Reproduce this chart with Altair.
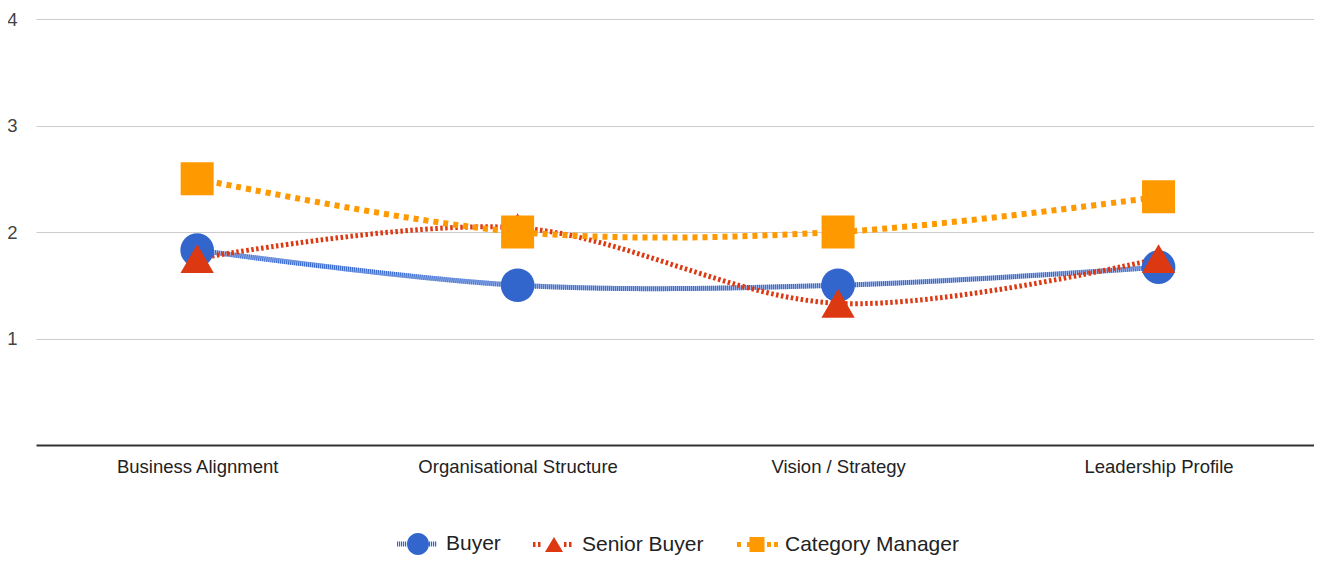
import altair as alt
import pandas as pd

categories = ["Business Alignment", "Organisational Structure", "Vision / Strategy", "Leadership Profile"]
series = ["Buyer", "Senior Buyer", "Category Manager"]
buyer = [1.83, 1.5, 1.5, 1.67]
senior_buyer = [1.75, 2.04, 1.33, 1.75]
category_manager = [2.5, 2.0, 2.0, 2.33]
y_ticks = [1, 2, 3, 4]

colors = ["#3366CC", "#DC3912", "#FF9900"]
FONT = "Liberation Sans, Arial, sans-serif"

rows = []
for s, vals in zip(series, [buyer, senior_buyer, category_manager]):
    for c, v in zip(categories, vals):
        rows.append({"category": c, "series": s, "value": v})
df = pd.DataFrame(rows)

# ---- custom symbol paths (style only) ----
R = 21.0  # px per path unit for legend symbols (symbolSize = 42^2)


def f(v):
    return f"{v / R:.4f}"


def dashes(start, end, w, period, h):
    parts = []
    x = start
    while x + w <= end + 1e-9:
        parts.append(f"M{f(x)},{f(-h)}L{f(x + w)},{f(-h)}L{f(x + w)},{f(h)}L{f(x)},{f(h)}Z")
        x += period
    return "".join(parts)


def circle(r):
    return f"M{f(r)},0A{f(r)},{f(r)} 0 1,1 {f(-r)},0A{f(r)},{f(r)} 0 1,1 {f(r)},0Z"


leg_buyer = dashes(-21, -11, 1.2, 2, 2.5) + circle(11) + dashes(11, 20, 1.2, 2, 2.5)
leg_senior = dashes(-21, -9, 2.5, 5, 2.5) + f"M0,{f(-7.5)}L{f(9)},{f(7.5)}L{f(-9)},{f(7.5)}Z" + dashes(10, 21, 2.5, 5, 2.5)
leg_cat = (dashes(-20, -16, 4, 10, 2.5) + dashes(-10, -6, 4, 10, 2.5)
           + f"M{f(-7.5)},{f(-7.5)}L{f(7.5)},{f(-7.5)}L{f(7.5)},{f(7.5)}L{f(-7.5)},{f(7.5)}Z"
           + dashes(10, 14, 4, 10, 2.5) + dashes(17, 21, 4, 10, 2.5))

tri_path = "M0,-0.866L1,0.866L-1,0.866Z"

x_enc = alt.X("category:N", sort=categories,
              scale=alt.Scale(type="point", padding=0.494, align=0.509),
              axis=alt.Axis(title=None, labelAngle=0, ticks=False, grid=False,
                            domainColor="#333333", domainWidth=2,
                            labelFontSize=18.5, labelColor="#222222", labelFont=FONT,
                            labelPadding=12, labelLimit=500))
y_enc = alt.Y("value:Q", scale=alt.Scale(domain=[0, 4], nice=False, zero=True),
              axis=alt.Axis(title=None, values=y_ticks, domain=False, ticks=False,
                            gridColor="#cccccc", gridWidth=1,
                            labelFontSize=18.5, labelColor="#444444", labelFont=FONT,
                            labelPadding=19))

base = alt.Chart(df)

# light underlay for the finely hatched Buyer line
buyer_under = (
    base.transform_filter(alt.datum.series == series[0])
    .mark_line(interpolate="cardinal", color="#a8bdeb", strokeWidth=5)
    .encode(x=x_enc, y=y_enc)
)

line_styles = [
    (series[0], colors[0], 5, [1, 1]),
    (series[1], colors[1], 5, [2.5, 2.5]),
    (series[2], colors[2], 6, [5, 5]),
]
lines = [buyer_under]
for s, col, w, dash in line_styles:
    lines.append(
        base.transform_filter(alt.datum.series == s)
        .mark_line(interpolate="cardinal", color=col, strokeWidth=w, strokeDash=dash)
        .encode(x=x_enc, y=y_enc)
    )

points = base.mark_point(filled=True, opacity=1, strokeWidth=0).encode(
    x=x_enc,
    y=y_enc,
    color=alt.Color("series:N", scale=alt.Scale(domain=series, range=colors), legend=None),
    shape=alt.Shape("series:N", scale=alt.Scale(domain=series, range=["circle", tri_path, "square"]), legend=None),
    size=alt.Size("series:N", scale=alt.Scale(domain=series, range=[1134, 1089, 784]), legend=None),
)

leg = alt.Legend(title=None, orient="none", legendX=361, legendY=504, direction="horizontal",
                 symbolSize=1764, symbolStrokeWidth=0, symbolOpacity=1,
                 labelFontSize=21, labelColor="#222222", labelFont=FONT,
                 labelOffset=7, columnPadding=32, padding=0, labelLimit=500)

legend_layer = base.transform_filter("false").mark_point(filled=True, opacity=1, strokeWidth=0).encode(
    color=alt.Color("series:N", scale=alt.Scale(domain=series, range=colors), legend=leg),
    shape=alt.Shape("series:N", scale=alt.Scale(domain=series, range=[leg_buyer, leg_senior, leg_cat]), legend=leg),
)

chart = alt.layer(*lines, points, legend_layer).resolve_scale(
    color="independent", shape="independent", size="independent"
).properties(
    width=1278, height=426,
    padding={"left": 28, "top": 11, "right": 0, "bottom": 115},
    autosize=alt.AutoSizeParams(type="none"),
    background="white",
).configure_view(stroke=None)

chart.save("out.html", embed_options={"renderer": "svg", "actions": False})
